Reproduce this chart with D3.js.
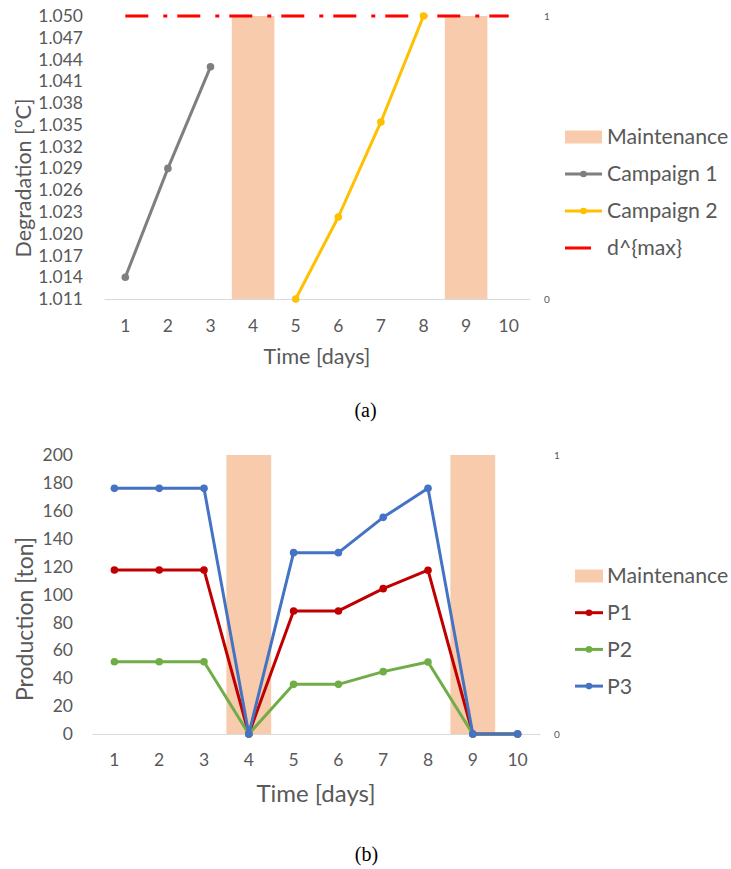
<!DOCTYPE html>
<html>
<head>
<meta charset="utf-8">
<script src="https://cdn.jsdelivr.net/npm/d3@7/dist/d3.min.js"></script>
<style>
  html, body { margin: 0; padding: 0; background: #fff; }
  svg { display: block; font-family: Lato, "Open Sans", sans-serif; }
</style>
</head>
<body>
<svg id="fig" width="731" height="869"></svg>
<script>
// ---- shared categories ----
const days = ["1", "2", "3", "4", "5", "6", "7", "8", "9", "10"];
// maintenance flag per day, plotted on the secondary (0..1) axis
const maintenance = [0, 0, 0, 1, 0, 0, 0, 0, 1, 0];
const secondaryTicks = [0, 1];

// ---- (a) degradation ----
const degTicks = [1.011, 1.014, 1.017, 1.020, 1.023, 1.026, 1.029, 1.032,
                  1.035, 1.038, 1.041, 1.044, 1.047, 1.050];
const campaign1 = [1.014, 1.029, 1.043, null, null, null, null, null, null, null];
const campaign2 = [null, null, null, null, 1.011, 1.0223, 1.0354, 1.050, null, null];
const dMax = [1.050, 1.050, 1.050, 1.050, 1.050, 1.050, 1.050, 1.050, 1.050, 1.050];

// ---- (b) production ----
const prodTicks = [0, 20, 40, 60, 80, 100, 120, 140, 160, 180, 200];
const p1 = [117.6, 117.6, 117.6, 0, 88.2, 88.2, 104.2, 117.4, 0, 0];
const p2 = [51.8, 51.8, 51.8, 0, 35.6, 35.6, 44.7, 51.6, 0, 0];
const p3 = [176.1, 176.1, 176.1, 0, 130.0, 130.0, 155.3, 176.1, 0, 0];

const C = {
  text: "#595959",
  axis: "#D9D9D9",
  maint: "#F8CBAD",
  gray: "#7F7F7F",
  gold: "#FFC000",
  red: "#FF0000",
  p1: "#C00000",
  p2: "#70AD47",
  p3: "#4472C4"
};

const svg = d3.select("#fig");

function panel(cfg) {
  const g = svg.append("g");
  const x = d3.scaleBand().domain(days).range([cfg.left, cfg.right]).padding(0);
  const y = d3.scaleLinear().domain(cfg.yDomain).range([cfg.bottom, cfg.top]);
  const y2 = d3.scaleLinear().domain([0, 1]).range([cfg.bottom, cfg.top]);
  const cx = d => x(d) + x.bandwidth() / 2;

  // maintenance bars (secondary axis)
  g.append("g").selectAll("rect")
    .data(days.map((d, i) => ({ d, v: maintenance[i] })).filter(o => o.v > 0))
    .join("rect")
    .attr("x", o => x(o.d))
    .attr("width", x.bandwidth())
    .attr("y", o => y2(o.v))
    .attr("height", o => y2(0) - y2(o.v))
    .attr("fill", C.maint);

  // category axis
  const xa = g.append("g")
    .attr("transform", `translate(0,${cfg.bottom})`)
    .call(d3.axisBottom(x).tickSize(0).tickPadding(cfg.xPad).tickSizeOuter(0));
  xa.select(".domain").attr("stroke", C.axis).attr("stroke-width", 1.2);
  xa.selectAll("text").attr("fill", C.text).attr("font-size", cfg.tickFs)
    .attr("font-family", "Lato, sans-serif");

  // primary value axis
  const ya = g.append("g")
    .attr("transform", `translate(${cfg.left},0)`)
    .call(d3.axisLeft(y).tickValues(cfg.yTicks).tickFormat(cfg.yFormat)
      .tickSize(0).tickPadding(cfg.yPad));
  ya.select(".domain").remove();
  ya.selectAll("text").attr("fill", C.text).attr("font-size", cfg.tickFs)
    .attr("font-family", "Lato, sans-serif");

  // secondary axis (labels only)
  const y2a = g.append("g")
    .attr("transform", `translate(${cfg.right},0)`)
    .call(d3.axisRight(y2).tickValues(secondaryTicks).tickFormat(d3.format("d"))
      .tickSize(0).tickPadding(cfg.y2Pad));
  y2a.select(".domain").remove();
  y2a.selectAll("text").attr("fill", C.text).attr("font-size", 10)
    .attr("font-family", "Lato, sans-serif");

  // axis titles
  g.append("text")
    .attr("x", (cfg.left + cfg.right) / 2)
    .attr("y", cfg.xTitleY)
    .attr("text-anchor", "middle")
    .attr("fill", C.text)
    .attr("font-size", cfg.xTitleFs)
    .text("Time [days]");
  g.append("text")
    .attr("transform", `translate(${cfg.yTitleX},${cfg.yTitleCY}) rotate(-90)`)
    .attr("text-anchor", "middle")
    .attr("fill", C.text)
    .attr("font-size", cfg.yTitleFs)
    .text(cfg.yTitle);

  // series
  cfg.series.forEach(s => {
    const pts = days.map((d, i) => ({ d, v: s.values[i] }));
    const line = d3.line().defined(o => o.v !== null)
      .x(o => cx(o.d)).y(o => y(o.v));
    g.append("path")
      .datum(pts)
      .attr("fill", "none")
      .attr("stroke", s.color)
      .attr("stroke-width", s.width || 3)
      .attr("stroke-linejoin", "round")
      .attr("stroke-dasharray", s.dash || null)
      .attr("d", line);
    if (s.markers) {
      g.append("g").selectAll("circle")
        .data(pts.filter(o => o.v !== null))
        .join("circle")
        .attr("cx", o => cx(o.d))
        .attr("cy", o => y(o.v))
        .attr("r", s.r || 3.8)
        .attr("fill", s.color);
    }
  });

  // legend
  const lg = g.append("g");
  cfg.legend.forEach((item, i) => {
    const ly = cfg.legendY + i * cfg.legendStep;
    if (item.kind === "bar") {
      lg.append("rect").attr("x", cfg.legendX).attr("y", ly - 6.5)
        .attr("width", item.w).attr("height", 13).attr("fill", C.maint);
    } else {
      lg.append("line").attr("x1", cfg.legendX).attr("x2", cfg.legendX + item.w)
        .attr("y1", ly).attr("y2", ly)
        .attr("stroke", item.color).attr("stroke-width", 3);
      if (item.marker) {
        lg.append("circle").attr("cx", cfg.legendX + item.w / 2).attr("cy", ly)
          .attr("r", 3.3).attr("fill", item.color);
      }
    }
    lg.append("text").attr("x", cfg.legendTextX).attr("y", ly)
      .attr("dy", "0.35em")
      .attr("fill", C.text).attr("font-size", cfg.legendFs)
      .text(item.label);
  });
}

// (a) Degradation per campaign
panel({
  left: 104, right: 530, top: 16, bottom: 299,
  yDomain: [1.011, 1.050], yTicks: degTicks, yFormat: d3.format(".3f"),
  xPad: 21, yPad: 21, y2Pad: 14, tickFs: 17.5,
  xTitleY: 364, xTitleFs: 21.5,
  yTitle: "Degradation [°C]", yTitleX: 31, yTitleCY: 178, yTitleFs: 21.5,
  series: [
    { values: dMax, color: C.red, dash: "23 15 4 10", width: 3 },
    { values: campaign1, color: C.gray, markers: true },
    { values: campaign2, color: C.gold, markers: true }
  ],
  legendX: 565, legendTextX: 607, legendY: 137, legendStep: 37, legendFs: 21.3,
  legend: [
    { kind: "bar", label: "Maintenance", w: 37 },
    { kind: "line", label: "Campaign 1", color: C.gray, marker: true, w: 37 },
    { kind: "line", label: "Campaign 2", color: C.gold, marker: true, w: 37 },
    { kind: "line", label: "d^{max}", color: C.red, w: 26 }
  ]
});

// (b) Production per product
panel({
  left: 92, right: 540, top: 455, bottom: 734,
  yDomain: [0, 200], yTicks: prodTicks, yFormat: d3.format("d"),
  xPad: 20, yPad: 19, y2Pad: 14, tickFs: 17.5,
  xTitleY: 802, xTitleFs: 24,
  yTitle: "Production [ton]", yTitleX: 33, yTitleCY: 619, yTitleFs: 23,
  series: [
    { values: p1, color: C.p1, markers: true },
    { values: p2, color: C.p2, markers: true },
    { values: p3, color: C.p3, markers: true }
  ],
  legendX: 575, legendTextX: 607, legendY: 576, legendStep: 36.7, legendFs: 21.3,
  legend: [
    { kind: "bar", label: "Maintenance", w: 28 },
    { kind: "line", label: "P1", color: C.p1, marker: true, w: 28 },
    { kind: "line", label: "P2", color: C.p2, marker: true, w: 28 },
    { kind: "line", label: "P3", color: C.p3, marker: true, w: 28 }
  ]
});

// panel captions
svg.append("text").attr("x", 365.5).attr("y", 417)
  .attr("text-anchor", "middle").attr("font-family", "'Liberation Serif', serif")
  .attr("font-size", 20).attr("fill", "#000").text("(a)");
svg.append("text").attr("x", 366.5).attr("y", 861)
  .attr("text-anchor", "middle").attr("font-family", "'Liberation Serif', serif")
  .attr("font-size", 20).attr("fill", "#000").text("(b)");
</script>
</body>
</html>
